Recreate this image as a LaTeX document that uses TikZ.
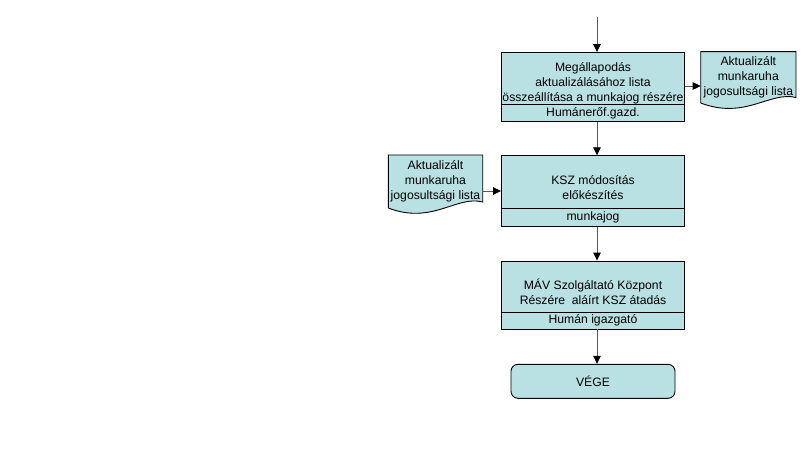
\documentclass[tikz,border=0pt]{standalone}
\usepackage{fontspec}
\setmainfont{Liberation Sans}
\usetikzlibrary{arrows.meta}
\definecolor{boxfill}{RGB}{185,224,227}
\definecolor{linegray}{RGB}{90,90,90}
\tikzset{
  box/.style={draw=black, line width=0.9pt, fill=boxfill, minimum width=183pt, inner sep=0pt},
  txt/.style={align=center, font=\fontsize{12.2}{15}\selectfont, inner sep=0pt},
  conn/.style={draw=linegray, line width=0.9pt, -{Triangle[length=8pt,width=7.5pt,color=black]}},
  docshape/.style={draw=black, line width=0.9pt, fill=boxfill},
  divider/.style={draw=black, line width=0.9pt}
}
\begin{document}
\begin{tikzpicture}[x=1pt,y=-1pt]
\useasboundingbox (0,0) rectangle (803,449);
% box 1
\node[box, minimum height=69pt] (b1) at (593,87) {};
\draw[divider] (501.5,104) -- (684.5,104);
\node[txt] (b1t) at (593,83) {Megállapodás\\aktualizálásához lista\\összeállítása a munkajog részére};
\node[txt] (b1l) at (593,113) {Humánerőf.gazd.};
% box 2
\node[box, minimum height=70.5pt] (b2) at (593,191) {};
\draw[divider] (501.5,208.5) -- (684.5,208.5);
\node[txt] (b2t) at (593,188) {KSZ módosítás\\előkészítés};
\node[txt] (b2l) at (593,217) {munkajog};
% box 3
\node[box, minimum height=68pt] (b3) at (593,295) {};
\draw[divider] (501.5,312) -- (684.5,312);
\node[txt] (b3t) at (593,291.5) {MÁV Szolgáltató Központ\\Részére\ \ aláírt KSZ átadás};
\node[txt] (b3l) at (593,320) {Humán igazgató};
% end
\node[box, rounded corners=7pt, minimum width=164pt, minimum height=34pt] (e) at (593,381.3) {};
\node[txt] (et) at (593,381.3) {VÉGE};
% document 1
\path[docshape] (700.7,51.7) -- (796,51.7) -- (796,97.5)
  .. controls (770,91) and (745,120) .. (700.7,103) -- cycle;
\node[txt, minimum width=95pt, minimum height=40pt] (d1) at (748.3,77) {Aktualizált\\munkaruha\\jogosultsági lista};
% document 2
\path[docshape] (388.3,155) -- (482.7,155) -- (482.7,202)
  .. controls (457,195) and (432,225) .. (388.3,208) -- cycle;
\node[txt, minimum width=94pt, minimum height=40pt] (d2) at (435.5,181.7) {Aktualizált\\munkaruha\\jogosultsági lista};
% connectors
\coordinate (start) at (597,17);
\draw[conn] (start) -- (start |- b1.north);
\draw[conn] (b1.east |- 0,86) -- (700.7,86);
\draw[conn] (d2.east |- 0,191) -- (b2.west |- 0,191);
\draw[conn] (b1.south -| start) -- (b2.north -| start);
\draw[conn] (b2.south -| start) -- (b3.north -| start);
\draw[conn] (b3.south -| start) -- (e.north -| start);
\end{tikzpicture}
\end{document}
